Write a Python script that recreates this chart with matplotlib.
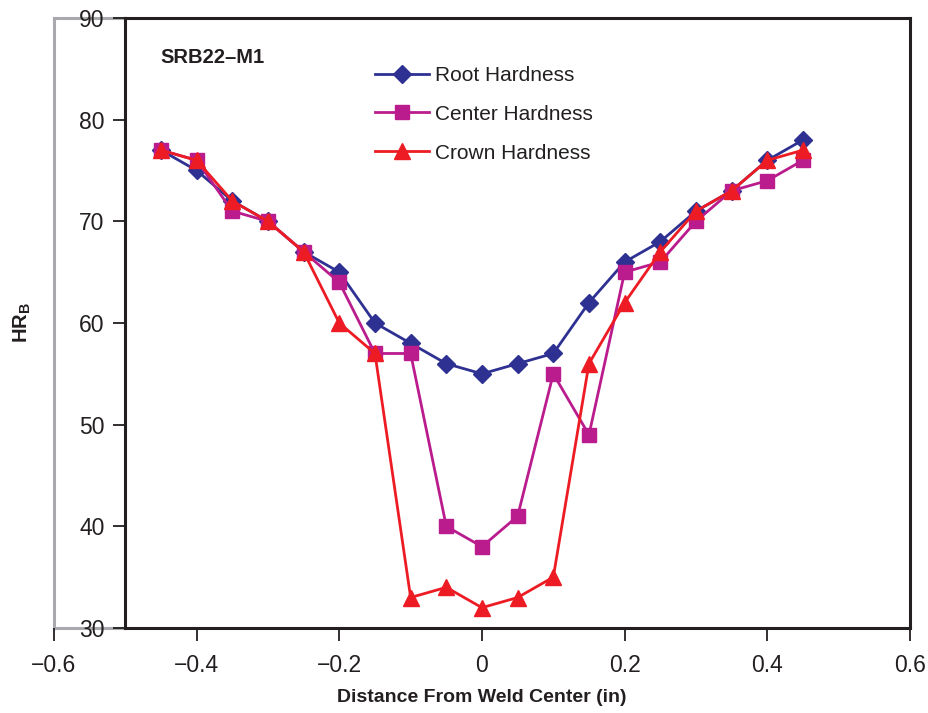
import matplotlib
matplotlib.use('Agg')
import matplotlib.pyplot as plt
from matplotlib import font_manager

# 字体: 尽量接近原图的窄体 Helvetica
names = {f.name for f in font_manager.fontManager.ttflist}
NARROW = 'Liberation Sans Narrow' if 'Liberation Sans Narrow' in names else 'Liberation Sans'
plt.rcParams['font.family'] = [NARROW, 'DejaVu Sans']

# 数据
distance = [-0.45, -0.40, -0.35, -0.30, -0.25, -0.20, -0.15, -0.10, -0.05, 0.0,
            0.05, 0.10, 0.15, 0.20, 0.25, 0.30, 0.35, 0.40, 0.45]
root_hardness = [77, 75, 72, 70, 67, 65, 60, 58, 56, 55, 56, 57, 62, 66, 68, 71, 73, 76, 78]
center_hardness = [77, 76, 71, 70, 67, 64, 57, 57, 40, 38, 41, 55, 49, 65, 66, 70, 73, 74, 76]
crown_hardness = [77, 76, 72, 70, 67, 60, 57, 33, 34, 32, 33, 35, 56, 62, 67, 71, 73, 76, 77]
x_ticks = [-0.6, -0.4, -0.2, 0, 0.2, 0.4, 0.6]
x_labels = ['\u22120.6', '\u22120.4', '\u22120.2', '0', '0.2', '0.4', '0.6']
y_ticks = [30, 40, 50, 60, 70, 80, 90]

BLUE = '#2E3192'
MAGENTA = '#BA1C8E'
RED = '#ED1C24'
GRAY = '#A7A9AC'
DARK = '#231F20'

fig = plt.figure(figsize=(9.29, 7.13), dpi=100)
ax = fig.add_axes([0.0581, 0.1192, 0.9214, 0.8556])
ax.set_xlim(-0.6, 0.6)
ax.set_ylim(30, 90)

ax.plot(distance, root_hardness, color=BLUE, marker='D', markersize=9.5,
        linewidth=2, label='Root Hardness', zorder=3)
ax.plot(distance, center_hardness, color=MAGENTA, marker='s', markersize=10,
        linewidth=2, label='Center Hardness', zorder=4)
ax.plot(distance, crown_hardness, color=RED, marker='^', markersize=11.5,
        linewidth=2, label='Crown Hardness', zorder=5)

# 边框: 黑框从 -0.5 开始, 左侧灰线在 -0.6
for s in ['top', 'bottom', 'right', 'left']:
    ax.spines[s].set_color(DARK)
    ax.spines[s].set_linewidth(2.2)
ax.spines['left'].set_position(('data', -0.5))
ax.spines['top'].set_bounds(-0.5, 0.6)
ax.spines['bottom'].set_bounds(-0.5, 0.6)
frac = 0.1 / 1.2
ax.axvline(-0.6, color=GRAY, linewidth=2.2, zorder=1, clip_on=False)
ax.axhline(90, xmin=0, xmax=frac, color=GRAY, linewidth=2.2, zorder=1, clip_on=False)
ax.axhline(30, xmin=0, xmax=frac, color=GRAY, linewidth=2.2, zorder=1, clip_on=False)

ax.set_xticks(x_ticks)
ax.set_xticklabels(x_labels)
ax.set_yticks(y_ticks)
ax.tick_params(axis='both', direction='out', length=9, width=1.3, color=DARK,
               labelsize=16.5, labelcolor=DARK)
ax.tick_params(axis='y', pad=6)
ax.tick_params(axis='x', pad=10)

ax.set_xlabel('Distance From Weld Center (in)', fontsize=14, fontweight='bold',
              color=DARK, labelpad=8)
ax.set_ylabel('HR$_\\mathregular{B}$', fontsize=14.5, fontweight='bold', color=DARK)
ax.yaxis.set_label_coords(-0.024, 0.5)

ax.text(-0.451, 86.1, 'SRB22\u2013M1', fontsize=14.5, fontweight='bold', color=DARK,
        va='center', ha='left')

leg = ax.legend(loc='upper left', bbox_to_anchor=(0.353, 0.952), frameon=False,
                fontsize=15, numpoints=1, handlelength=2.6, handletextpad=0.3,
                labelspacing=0.95)
for t in leg.get_texts():
    t.set_color(DARK)

plt.savefig('out.png', dpi=100)
